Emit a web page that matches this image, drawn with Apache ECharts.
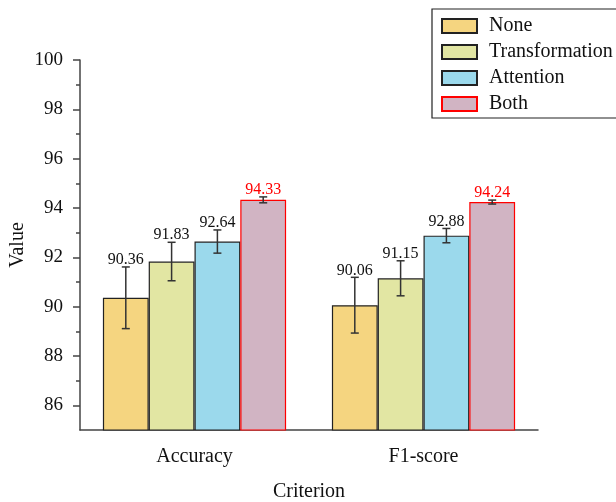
<!DOCTYPE html>
<html>
<head>
<meta charset="utf-8">
<script src="https://cdn.jsdelivr.net/npm/echarts@6/dist/echarts.min.js"></script>
<style>html,body{margin:0;padding:0;background:#fff}#c{width:616px;height:502px}</style>
</head>
<body>
<div id="c"></div>
<script>
var categories = ['Accuracy', 'F1-score'];
var seriesNames = ['None', 'Transformation', 'Attention', 'Both'];
var noneVals = [90.36, 90.06];
var noneErr = [1.25, 1.13];
var transVals = [91.83, 91.15];
var transErr = [0.78, 0.71];
var attVals = [92.64, 92.88];
var attErr = [0.47, 0.29];
var bothVals = [94.33, 94.24];
var bothErr = [0.12, 0.08];
var yTicks = [86, 88, 90, 92, 94, 96, 98, 100];
var yMinorTicks = [87, 89, 91, 93, 95, 97, 99];

var FONT = '"Liberation Serif", "Times New Roman", serif';
var fills = ['#F5D580', '#E2E6A3', '#9BD9EC', '#D1B4C3'];
var borders = ['#222', '#222', '#222', '#FF0000'];
var labelColors = ['#111', '#111', '#111', '#FF0000'];
var vals = [noneVals, transVals, attVals, bothVals];
var errs = [noneErr, transErr, attErr, bothErr];

var chart = echarts.init(document.getElementById('c'), null, {renderer: 'canvas'});

function errSeries(idx) {
  var data = vals[idx].map(function (v, i) { return [i, v, errs[idx][i]]; });
  return {
    type: 'custom',
    name: seriesNames[idx] + '_err',
    xAxisIndex: 0,
    yAxisIndex: 0,
    z: 5,
    data: data,
    renderItem: function (params, api) {
      var x = api.value(0), v = api.value(1), e = api.value(2);
      var catW = api.size([1, 0])[0];
      var barW = catW * 0.2;
      var off = (-1.5 + idx) * barW;
      var top = api.coord([x, v + e]);
      var bot = api.coord([x, v - e]);
      var cx = top[0] + off;
      var cap = 4;
      var st = {stroke: '#333', lineWidth: 1.5};
      return {
        type: 'group',
        children: [
          {type: 'line', shape: {x1: cx, y1: top[1], x2: cx, y2: bot[1]}, style: st},
          {type: 'line', shape: {x1: cx - cap, y1: top[1], x2: cx + cap, y2: top[1]}, style: st},
          {type: 'line', shape: {x1: cx - cap, y1: bot[1], x2: cx + cap, y2: bot[1]}, style: st},
          {type: 'text', x: cx, y: top[1] + 1,
            style: {text: api.value(1).toFixed(2), fill: labelColors[idx], font: '16px ' + FONT,
              textAlign: 'center', textVerticalAlign: 'bottom'}}
        ]
      };
    }
  };
}

var series = [];
for (var k = 0; k < 4; k++) {
  series.push({
    type: 'bar',
    name: seriesNames[k],
    data: vals[k],
    barGap: '0%',
    barCategoryGap: '20%',
    itemStyle: {color: fills[k], borderColor: borders[k], borderWidth: 1.2},
    emphasis: {disabled: true}
  });
}
for (var k2 = 0; k2 < 4; k2++) series.push(errSeries(k2));

var option = {
  animation: false,
  backgroundColor: '#fff',
  textStyle: {fontFamily: FONT},
  legend: {
    data: seriesNames,
    orient: 'vertical',
    icon: 'rect',
    left: 432,
    top: 9,
    itemWidth: 35,
    itemHeight: 14,
    itemGap: 6,
    padding: [7, 40, 4, 9],
    borderColor: '#222',
    borderWidth: 1.2,
    textStyle: {fontFamily: FONT, fontSize: 20, lineHeight: 20, color: '#111', padding: [0, 0, 0, 7]}
  },
  grid: {left: 80, right: 78, top: 60, bottom: 72, outerBoundsMode: 'none', containLabel: false},
  xAxis: [{
    type: 'category',
    data: categories,
    name: 'Criterion',
    nameLocation: 'middle',
    nameGap: 52,
    nameTextStyle: {fontFamily: FONT, fontSize: 20, color: '#111'},
    axisLine: {lineStyle: {color: '#444', width: 1.5}},
    axisTick: {alignWithLabel: true, length: 7, lineStyle: {color: '#444', width: 1.5}},
    axisLabel: {fontFamily: FONT, fontSize: 20, color: '#111', margin: 17}
  }, {
    type: 'category',
    data: categories,
    position: 'bottom',
    axisLine: {show: false},
    axisTick: {length: 4, lineStyle: {color: '#444', width: 1.5}},
    axisLabel: {show: false}
  }],
  yAxis: [{
    type: 'value',
    min: 85,
    max: 100,
    interval: 1,
    name: 'Value',
    nameLocation: 'middle',
    nameGap: 52,
    nameMoveOverlap: false,
    nameTextStyle: {fontFamily: FONT, fontSize: 20, color: '#111'},
    axisLine: {show: true, lineStyle: {color: '#444', width: 1.5}},
    axisTick: {show: true, length: 7, customValues: yTicks, lineStyle: {color: '#444', width: 1.5}},
    axisLabel: {fontFamily: FONT, fontSize: 19, color: '#111', margin: 17, customValues: yTicks},
    splitLine: {show: false}
  }, {
    type: 'value',
    min: 85,
    max: 100,
    interval: 1,
    position: 'left',
    axisLine: {show: false},
    axisTick: {show: true, length: 4, customValues: yMinorTicks, lineStyle: {color: '#444', width: 1.5}},
    axisLabel: {show: false},
    splitLine: {show: false}
  }],
  series: series
};
chart.setOption(option);
</script>
</body>
</html>
